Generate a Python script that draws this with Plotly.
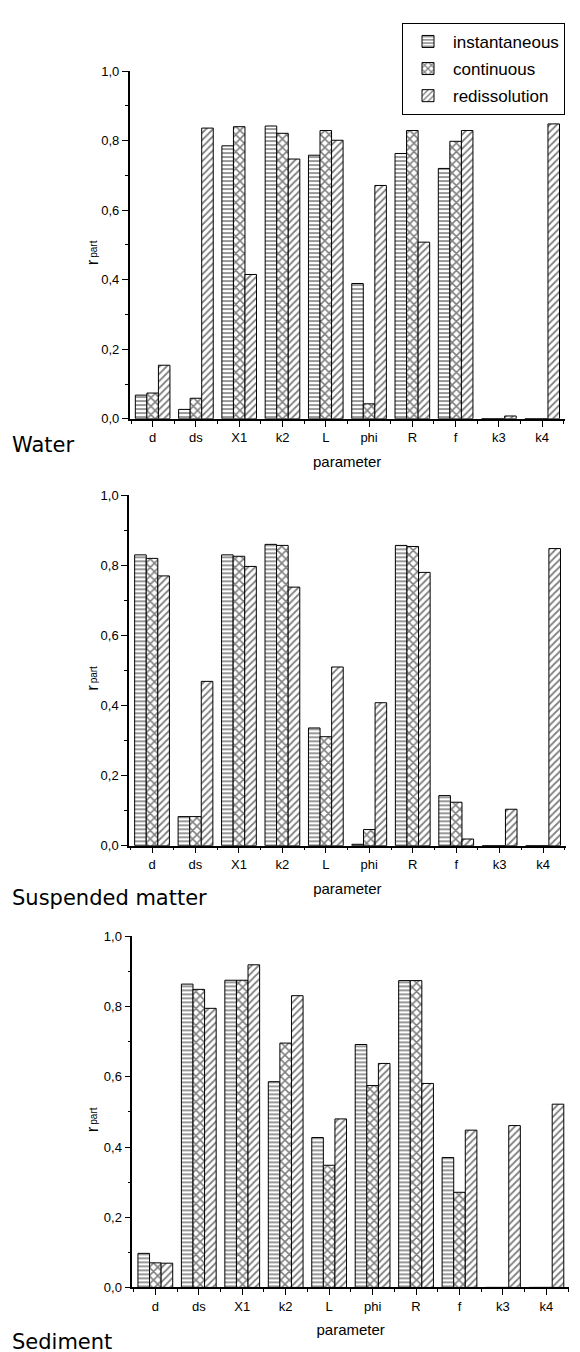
import plotly.graph_objects as go

params = ["d", "ds", "X1", "k2", "L", "phi", "R", "f", "k3", "k4"]
series_names = ["instantaneous", "continuous", "redissolution"]

water_inst = [0.068, 0.027, 0.785, 0.842, 0.758, 0.389, 0.763, 0.720, 0.0, 0.0]
water_cont = [0.074, 0.059, 0.840, 0.821, 0.829, 0.043, 0.829, 0.798, 0.0, 0.0]
water_redis = [0.154, 0.836, 0.415, 0.747, 0.801, 0.671, 0.508, 0.829, 0.008, 0.848]

susp_inst = [0.830, 0.083, 0.830, 0.860, 0.336, 0.004, 0.857, 0.143, 0.0, 0.0]
susp_cont = [0.820, 0.083, 0.826, 0.857, 0.311, 0.046, 0.854, 0.124, 0.0, 0.0]
susp_redis = [0.770, 0.469, 0.797, 0.738, 0.510, 0.408, 0.780, 0.019, 0.104, 0.848]

sed_inst = [0.097, 0.864, 0.875, 0.586, 0.427, 0.692, 0.874, 0.370, 0.0, 0.0]
sed_cont = [0.070, 0.849, 0.875, 0.696, 0.348, 0.575, 0.874, 0.271, 0.0, 0.0]
sed_redis = [0.069, 0.795, 0.919, 0.831, 0.480, 0.638, 0.581, 0.448, 0.461, 0.522]

panel_labels = ["Water", "Suspended matter", "Sediment"]
yticks = [0.0, 0.2, 0.4, 0.6, 0.8, 1.0]

W, H = 580, 1352
FONT = "Arial, 'Liberation Sans', sans-serif"
patterns = [
    dict(shape="-", size=4, solidity=0.4, fgcolor="black", bgcolor="white"),
    dict(shape="x", size=6, solidity=0.45, fgcolor="black", bgcolor="white"),
    dict(shape="/", size=5, solidity=0.35, fgcolor="black", bgcolor="white"),
]

panels = [
    (water_inst, water_cont, water_redis),
    (susp_inst, susp_cont, susp_redis),
    (sed_inst, sed_cont, sed_redis),
]

# pixel geometry: (x_left, x_right, y_top(1.0), y_bottom(0.0))
geom = [
    (121.7, 556.7, 56.7, 408.3),
    (121.0, 557.7, 485.7, 840.0),
    (124.3, 561.0, 931.7, 1286.7),
]
label_y = [435, 893, 1342]

fig = go.Figure()
xpos = list(range(len(params)))

for p, data in enumerate(panels):
    ax = "" if p == 0 else str(p + 1)
    for s, vals in enumerate(data):
        fig.add_trace(go.Bar(
            x=xpos, y=vals, name=series_names[s],
            xaxis="x" + ax, yaxis="y" + ax,
            offsetgroup=str(s), legendgroup=series_names[s],
            showlegend=(p == 0),
            marker=dict(color="white", pattern=patterns[s],
                        line=dict(color="black", width=1)),
        ))
    xl, xr, yt, yb = geom[p]
    fig.layout["xaxis" + ax] = dict(
        domain=[xl / W, xr / W], anchor="y" + ax,
        range=[-0.53, 9.52], tickmode="array", tickvals=xpos, ticktext=params,
        ticks="outside", ticklen=6, tickwidth=1.2, tickcolor="black",
        showline=True, linecolor="black", linewidth=1.5, showgrid=False,
        zeroline=False,
        minor=dict(tickmode="linear", tick0=0.5, dtick=1, ticks="outside",
                   ticklen=3, tickcolor="black", showgrid=False),
        tickfont=dict(family=FONT, size=13, color="black"),
        title=dict(text="parameter", standoff=12,
                   font=dict(family=FONT, size=15, color="black")),
    )
    fig.layout["yaxis" + ax] = dict(
        domain=[1 - yb / H, 1 - yt / H], anchor="x" + ax,
        range=[0, 1.0], tickmode="array", tickvals=yticks, tickformat=".1f",
        ticks="outside", ticklen=6, tickwidth=1.2, tickcolor="black",
        showline=True, linecolor="black", linewidth=1.5, showgrid=False,
        zeroline=False,
        minor=dict(tickmode="linear", tick0=0.1, dtick=0.2, ticks="outside",
                   ticklen=3, tickcolor="black", showgrid=False),
        tickfont=dict(family=FONT, size=13, color="black"),
    )
    # y-axis title r_part: "r" below, subscript "part" above (rotated text)
    y0 = 1 - ((yt + yb) / 2 + 14) / H
    fig.add_annotation(text="r", x=74 / W, y=y0, yanchor="top",
                       xref="paper", yref="paper", textangle=-90, showarrow=False,
                       borderpad=0, font=dict(family=FONT, size=17, color="black"))
    fig.add_annotation(text="part", x=79 / W, y=y0, yanchor="bottom",
                       xref="paper", yref="paper", textangle=-90, showarrow=False,
                       borderpad=0, font=dict(family=FONT, size=10, color="black"))
    fig.add_annotation(text=panel_labels[p], x=2 / W, y=1 - label_y[p] / H,
                       xref="paper", yref="paper", xanchor="left", yanchor="middle",
                       showarrow=False,
                       font=dict(family="DejaVu Sans", size=21, color="black"))

fig.update_layout(
    width=W, height=H, margin=dict(l=0, r=0, t=0, b=0),
    paper_bgcolor="white", plot_bgcolor="white",
    barmode="group", bargap=0.2, bargroupgap=0,
    separators=", ",
    showlegend=True,
    legend=dict(x=394 / W, y=1 - 8 / H, xanchor="left", yanchor="top",
                bordercolor="black", borderwidth=1, bgcolor="white",
                font=dict(family=FONT, size=17, color="black"),
                itemwidth=40, tracegroupgap=2),
)

fig.write_html("out.html")
